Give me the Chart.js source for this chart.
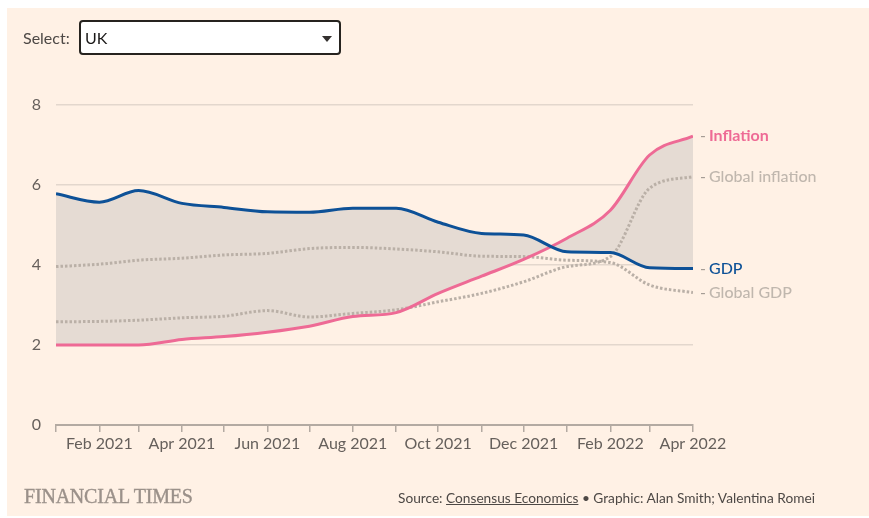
<!DOCTYPE html>
<html>
<head>
<meta charset="utf-8">
<script src="https://cdn.jsdelivr.net/npm/chart.js@4/dist/chart.umd.min.js"></script>
<style>
  html, body { margin: 0; padding: 0; background: #ffffff; width: 869px; height: 518px; overflow: hidden; }
  #card { position: absolute; left: 7px; top: 8px; width: 862px; height: 508px; background: #fff1e5; }
  #c { position: absolute; left: 0; top: 0; }
  .sel-label { position: absolute; left: 23px; top: 28px; font: 16px Lato, sans-serif; color: #4d4845; }
  .sel-box { position: absolute; left: 79px; top: 20px; width: 258px; height: 31px; border: 2px solid #26231f; border-radius: 4px; background: #fff; }
  .sel-box span { position: absolute; left: 4px; top: 6px; font: 16px Lato, sans-serif; color: #1a1817; }
  .sel-box i { position: absolute; right: 7px; top: 14px; width: 0; height: 0; border-left: 5px solid transparent; border-right: 5px solid transparent; border-top: 6px solid #33302e; }
  .ft { position: absolute; left: 24px; top: 485px; font: 20px "Liberation Serif", serif; color: #9b918a; letter-spacing: -0.2px; -webkit-text-stroke: 0.4px #9b918a; }
  .src { position: absolute; left: 398px; top: 489px; font: 13.7px Lato, sans-serif; color: #4d4845; white-space: nowrap; }
  .src u { text-decoration: underline; }
</style>
</head>
<body>
<div id="card"></div>
<canvas id="c" width="869" height="518"></canvas>
<div class="sel-label">Select:</div>
<div class="sel-box"><span>UK</span><i></i></div>
<div class="ft">FINANCIAL TIMES</div>
<div class="src">Source: <u>Consensus Economics</u> • Graphic: Alan Smith; Valentina Romei</div>
<script>
// Days since 1 Jan 2021 for each monthly observation (Jan 2021 .. Apr 2022)
const monthDays = [0, 31, 59, 90, 120, 151, 181, 212, 243, 273, 304, 334, 365, 396, 424, 455];
const tickLabels = ['', 'Feb 2021', '', 'Apr 2021', '', 'Jun 2021', '', 'Aug 2021', '', 'Oct 2021', '', 'Dec 2021', '', 'Feb 2022', '', 'Apr 2022'];
const yTicks = [0, 2, 4, 6, 8];

const gdp             = [5.78, 5.57, 5.86, 5.54, 5.44, 5.33, 5.32, 5.42, 5.42, 5.07, 4.79, 4.75, 4.33, 4.31, 3.93, 3.91];
const inflation       = [2.00, 2.00, 2.00, 2.14, 2.21, 2.32, 2.47, 2.71, 2.81, 3.29, 3.72, 4.14, 4.67, 5.37, 6.75, 7.22];
const globalGdp       = [3.96, 4.02, 4.12, 4.17, 4.25, 4.29, 4.41, 4.44, 4.40, 4.33, 4.22, 4.21, 4.12, 4.06, 3.50, 3.31];
const globalInflation = [2.58, 2.59, 2.62, 2.68, 2.72, 2.86, 2.70, 2.79, 2.88, 3.08, 3.29, 3.58, 3.96, 4.21, 5.92, 6.21];

const seriesLabels = ['GDP', 'Inflation', 'Global GDP', 'Global inflation'];

const toXY = arr => arr.map((v, i) => ({ x: monthDays[i], y: v }));

const BLUE = '#0d5197', PINK = '#ee6a95', GREY = '#bab0a7';

const endLabels = {
  id: 'endLabels',
  afterDatasetsDraw(chart) {
    const ctx = chart.ctx;
    const x0 = chart.chartArea.right;
    const styles = [
      { color: BLUE, weight: '500' },
      { color: PINK, weight: 'bold' },
      { color: '#c0b7ae', weight: '500' },
      { color: '#c0b7ae', weight: '500' }
    ];
    ctx.save();
    ctx.textBaseline = 'middle';
    chart.data.datasets.forEach((ds, i) => {
      const meta = chart.getDatasetMeta(i);
      const pt = meta.data[meta.data.length - 1];
      const y = pt.y;
      ctx.font = '16px Lato, sans-serif';
      ctx.fillStyle = '#a59c95';
      ctx.textAlign = 'left';
      ctx.fillText('-', x0 + 7, y);
      ctx.font = styles[i].weight + ' 16px Lato, sans-serif';
      ctx.fillStyle = styles[i].color;
      ctx.fillText(ds.label, x0 + 16, y);
    });
    ctx.restore();
  }
};

new Chart(document.getElementById('c'), {
  type: 'line',
  data: {
    datasets: [
      { label: seriesLabels[0], data: toXY(gdp), borderColor: BLUE, borderWidth: 3, pointRadius: 0, fill: false, cubicInterpolationMode: 'monotone' },
      { label: seriesLabels[1], data: toXY(inflation), borderColor: PINK, borderWidth: 3, pointRadius: 0, fill: { target: 0 }, backgroundColor: '#e5dbd3', cubicInterpolationMode: 'monotone' },
      { label: seriesLabels[2], data: toXY(globalGdp), borderColor: GREY, borderWidth: 3, borderDash: [2.5, 2], pointRadius: 0, fill: false, cubicInterpolationMode: 'monotone' },
      { label: seriesLabels[3], data: toXY(globalInflation), borderColor: GREY, borderWidth: 3, borderDash: [2.5, 2], pointRadius: 0, fill: false, cubicInterpolationMode: 'monotone' }
    ]
  },
  options: {
    responsive: false,
    animation: false,
    devicePixelRatio: 1,
    events: [],
    layout: { padding: { left: 0, right: 176, top: 105, bottom: 53 } },
    plugins: {
      legend: { display: false },
      tooltip: { enabled: false },
      filler: { drawTime: 'beforeDatasetsDraw' }
    },
    scales: {
      x: {
        type: 'linear',
        min: monthDays[0],
        max: monthDays[monthDays.length - 1],
        afterBuildTicks: s => { s.ticks = monthDays.map(v => ({ value: v })); },
        afterFit: s => { s.height = 40; },
        grid: { display: true, drawOnChartArea: false, drawTicks: true, tickLength: 7, color: '#b3aaa2', lineWidth: 1.5 },
        border: { display: true, color: '#b3aaa2', width: 2 },
        ticks: {
          autoSkip: false, maxRotation: 0, minRotation: 0, padding: 2,
          color: '#66605c', font: { family: 'Lato', size: 16 },
          callback: (v, i) => tickLabels[i]
        }
      },
      y: {
        min: 0, max: 8,
        afterBuildTicks: s => { s.ticks = yTicks.map(v => ({ value: v })); },
        afterFit: s => { s.width = 56; },
        grid: { drawTicks: false, color: c => c.tick.value === 0 ? 'rgba(0,0,0,0)' : '#e3d7cd', lineWidth: 1.5 },
        border: { display: false },
        ticks: { padding: 15, color: '#66605c', font: { family: 'Lato', size: 16 } }
      }
    }
  },
  plugins: [endLabels]
});
</script>
</body>
</html>
